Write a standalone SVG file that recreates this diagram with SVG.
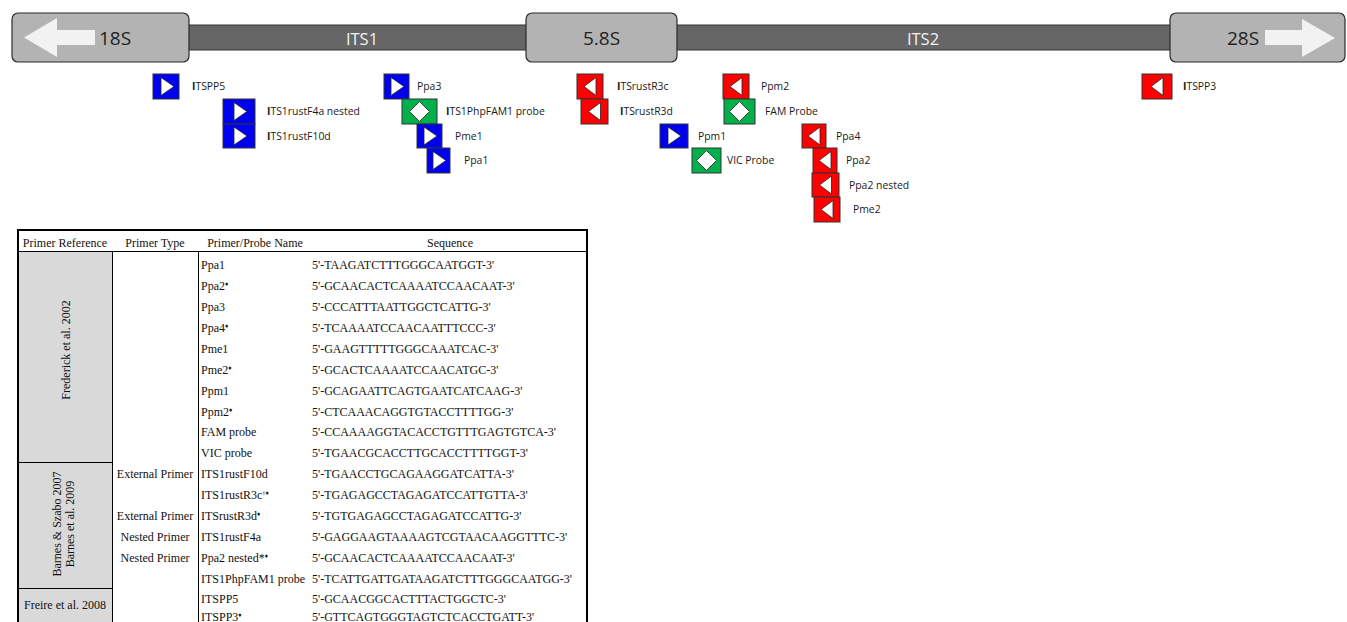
<svg xmlns="http://www.w3.org/2000/svg" width="1347" height="622" viewBox="0 0 1347 622">
<defs>
<style>
.bar{fill:#666666;stroke:#333;stroke-width:1}
.box{fill:#b3b3b3;stroke:#2a2a2a;stroke-width:1.2}
.arr{fill:#f2f2f2}
.rt{font-family:"Open Sans","Noto Sans",sans-serif;font-size:19px;fill:#222;text-anchor:middle}
.its{font-family:"Open Sans","Noto Sans",sans-serif;font-size:16.5px;fill:#f2f2f2;text-anchor:middle}
.fw{fill:#0000f0;stroke:#333;stroke-width:1}
.rv{fill:#ff0000;stroke:#333;stroke-width:1}
.pr{fill:#00b04a;stroke:#333;stroke-width:1}
.tri{fill:#fff;stroke:#222;stroke-width:0.8}
.lab{font-family:"Open Sans","Noto Sans",sans-serif;font-size:10.4px;fill:#1a1a1a}
.b{font-weight:bold}
.t{font-family:"Liberation Serif","Times New Roman",serif;font-size:12px;fill:#111}
.tm{text-anchor:middle}
.sup{font-size:6.5px}
.grey{fill:#d9d9d9}
.thin{stroke:#000;stroke-width:1;fill:none}
.thick{stroke:#000;stroke-width:2;fill:none}
</style>
</defs>

<g id="rdna">
<rect class="bar" x="185" y="25" width="990" height="25"/>
<g id="n18S">
<rect class="box" x="12" y="13" width="177" height="49" rx="6"/>
<polygon class="arr" points="24,37.5 57,18 57,30 95,30 95,45 57,45 57,57"/>
<text class="rt" x="115" y="44.5">18S</text>
</g>
<g id="nITS1"><text class="its" x="362" y="45">ITS1</text></g>
<g id="n58S">
<rect class="box" x="526" y="13" width="151" height="49" rx="6"/>
<text class="rt" x="601.5" y="45">5.8S</text>
</g>
<g id="nITS2"><text class="its" x="923" y="45">ITS2</text></g>
<g id="n28S">
<rect class="box" x="1170" y="13" width="175" height="49" rx="6"/>
<polygon class="arr" points="1335,38 1302,19 1302,30 1265,30 1265,45 1302,45 1302,57"/>
<text class="rt" x="1243" y="44.5">28S</text>
</g>
</g>

<g id="primers">
<g id="p-ITSPP5"><rect class="fw" x="153" y="74" width="26" height="25"/><polygon class="tri" points="161,77.5 161,95.5 174,86.5"/><text class="lab" x="192" y="90"><tspan class="b">I</tspan>TSPP5</text></g>
<g id="p-F4a"><rect class="fw" x="223" y="99" width="32" height="25"/><polygon class="tri" points="234,102.5 234,120.5 247,111.5"/><text class="lab" x="267" y="115"><tspan class="b">I</tspan>TS1rustF4a nested</text></g>
<g id="p-F10d"><rect class="fw" x="223" y="124" width="32" height="24"/><polygon class="tri" points="234,127 234,145 247,136"/><text class="lab" x="267" y="139.5"><tspan class="b">I</tspan>TS1rustF10d</text></g>
<g id="p-Ppa3"><rect class="fw" x="384" y="74" width="25" height="25"/><polygon class="tri" points="391,77.5 391,95.5 404,86.5"/><text class="lab" x="417" y="90">Ppa3</text></g>
<g id="p-FAM1"><rect class="pr" x="402" y="99" width="35" height="25"/><polygon class="tri" points="419.5,101.5 429.5,111.5 419.5,121.5 409.5,111.5"/><text class="lab" x="446" y="115"><tspan class="b">I</tspan>TS1PhpFAM1 probe</text></g>
<g id="p-Pme1"><rect class="fw" x="417" y="124" width="25" height="24"/><polygon class="tri" points="424,127 424,145 437,136"/><text class="lab" x="455" y="139.5">Pme1</text></g>
<g id="p-Ppa1"><rect class="fw" x="427" y="148" width="23" height="25"/><polygon class="tri" points="433,151.5 433,169.5 446,160.5"/><text class="lab" x="464" y="164">Ppa1</text></g>
<g id="p-R3c"><rect class="rv" x="577" y="74" width="26" height="25"/><polygon class="tri" points="584,86.5 596,77.5 596,95.5"/><text class="lab" x="617" y="90"><tspan class="b">I</tspan>TSrustR3c</text></g>
<g id="p-R3d"><rect class="rv" x="581" y="99" width="27" height="25"/><polygon class="tri" points="588.5,111.5 600.5,102.5 600.5,120.5"/><text class="lab" x="620" y="115"><tspan class="b">I</tspan>TSrustR3d</text></g>
<g id="p-Ppm1"><rect class="fw" x="660" y="124" width="28" height="24"/><polygon class="tri" points="668,127 668,145 681,136"/><text class="lab" x="698" y="139.5">Ppm1</text></g>
<g id="p-VIC"><rect class="pr" x="692" y="148" width="29" height="25"/><polygon class="tri" points="706.5,150.5 716.5,160.5 706.5,170.5 696.5,160.5"/><text class="lab" x="727" y="164">VIC Probe</text></g>
<g id="p-Ppm2"><rect class="rv" x="723" y="74" width="26" height="25"/><polygon class="tri" points="730,86.5 742,77.5 742,95.5"/><text class="lab" x="761" y="90">Ppm2</text></g>
<g id="p-FAM"><rect class="pr" x="724" y="99" width="31" height="25"/><polygon class="tri" points="739.5,101.5 749.5,111.5 739.5,121.5 729.5,111.5"/><text class="lab" x="765" y="115">FAM Probe</text></g>
<g id="p-Ppa4"><rect class="rv" x="802" y="124" width="24" height="24"/><polygon class="tri" points="808,136 820,127 820,145"/><text class="lab" x="836" y="139.5">Ppa4</text></g>
<g id="p-Ppa2"><rect class="rv" x="813" y="148" width="24" height="25"/><polygon class="tri" points="819,160.5 831,151.5 831,169.5"/><text class="lab" x="846" y="164">Ppa2</text></g>
<g id="p-Ppa2n"><rect class="rv" x="812" y="173" width="27" height="24"/><polygon class="tri" points="819.5,185 831.5,176 831.5,194"/><text class="lab" x="849" y="188.5">Ppa2 nested</text></g>
<g id="p-Pme2"><rect class="rv" x="814" y="197" width="26" height="25"/><polygon class="tri" points="821,209.5 833,200.5 833,218.5"/><text class="lab" x="853" y="213">Pme2</text></g>
<g id="p-ITSPP3"><rect class="rv" x="1142" y="74" width="30" height="25"/><polygon class="tri" points="1151,86.5 1163,77.5 1163,95.5"/><text class="lab" x="1183" y="90"><tspan class="b">I</tspan>TSPP3</text></g>
</g>

<g id="table">
<rect class="grey" x="19" y="252" width="93" height="210"/>
<rect class="grey" x="19" y="463" width="93" height="125"/>
<rect class="grey" x="19" y="589" width="93" height="36"/>
<line class="thin" x1="18" y1="251.5" x2="588" y2="251.5"/>
<line class="thin" x1="18" y1="462.5" x2="112" y2="462.5"/>
<line class="thin" x1="18" y1="588.5" x2="112" y2="588.5"/>
<line class="thin" x1="112.5" y1="251" x2="112.5" y2="622"/>
<line class="thin" x1="198.5" y1="251" x2="198.5" y2="622"/>
<polyline class="thick" points="18,622 18,230 587,230 587,622"/>

<text class="t tm" x="65" y="247">Primer Reference</text>
<text class="t tm" x="155" y="247">Primer Type</text>
<text class="t tm" x="255" y="247">Primer/Probe Name</text>
<text class="t tm" x="450" y="247">Sequence</text>

<text class="t tm" transform="translate(69.5,350) rotate(-90)">Frederick et al. 2002</text>
<text class="t tm" transform="translate(61,524) rotate(-90)">Barnes &amp; Szabo 2007</text>
<text class="t tm" transform="translate(73.5,524) rotate(-90)">Barnes et al. 2009</text>
<text class="t tm" x="65" y="608.5">Freire et al. 2008</text>

<text class="t tm" x="155" y="478">External Primer</text>
<text class="t tm" x="155" y="520">External Primer</text>
<text class="t tm" x="155" y="540.5">Nested Primer</text>
<text class="t tm" x="155" y="561.5">Nested Primer</text>

<g>
<text class="t" x="201" y="269">Ppa1</text>
<text class="t" x="201" y="290">Ppa2<tspan class="sup" dy="-4">♦</tspan></text>
<text class="t" x="201" y="311">Ppa3</text>
<text class="t" x="201" y="331.5">Ppa4<tspan class="sup" dy="-4">♦</tspan></text>
<text class="t" x="201" y="352.5">Pme1</text>
<text class="t" x="201" y="373.5">Pme2<tspan class="sup" dy="-4">♦</tspan></text>
<text class="t" x="201" y="394.5">Ppm1</text>
<text class="t" x="201" y="415.5">Ppm2<tspan class="sup" dy="-4">♦</tspan></text>
<text class="t" x="201" y="436">FAM probe</text>
<text class="t" x="201" y="457">VIC probe</text>
<text class="t" x="201" y="478">ITS1rustF10d</text>
<text class="t" x="201" y="499">ITS1rustR3c<tspan class="sup" dy="-4">†♦</tspan></text>
<text class="t" x="201" y="520">ITSrustR3d<tspan class="sup" dy="-4">♦</tspan></text>
<text class="t" x="201" y="540.5">ITS1rustF4a</text>
<text class="t" x="201" y="561.5">Ppa2 nested*<tspan class="sup" dy="-4">♦</tspan></text>
<text class="t" x="201" y="582.5">ITS1PhpFAM1 probe</text>
<text class="t" x="201" y="602.5">ITSPP5</text>
<text class="t" x="201" y="621">ITSPP3<tspan class="sup" dy="-4">♦</tspan></text>
</g>
<g>
<text class="t" x="312" y="269">5'-TAAGATCTTTGGGCAATGGT-3'</text>
<text class="t" x="312" y="290">5'-GCAACACTCAAAATCCAACAAT-3'</text>
<text class="t" x="312" y="311">5'-CCCATTTAATTGGCTCATTG-3'</text>
<text class="t" x="312" y="331.5">5'-TCAAAATCCAACAATTTCCC-3'</text>
<text class="t" x="312" y="352.5">5'-GAAGTTTTTGGGCAAATCAC-3'</text>
<text class="t" x="312" y="373.5">5'-GCACTCAAAATCCAACATGC-3'</text>
<text class="t" x="312" y="394.5">5'-GCAGAATTCAGTGAATCATCAAG-3'</text>
<text class="t" x="312" y="415.5">5'-CTCAAACAGGTGTACCTTTTGG-3'</text>
<text class="t" x="312" y="436">5'-CCAAAAGGTACACCTGTTTGAGTGTCA-3'</text>
<text class="t" x="312" y="457">5'-TGAACGCACCTTGCACCTTTTGGT-3'</text>
<text class="t" x="312" y="478">5'-TGAACCTGCAGAAGGATCATTA-3'</text>
<text class="t" x="312" y="499">5'-TGAGAGCCTAGAGATCCATTGTTA-3'</text>
<text class="t" x="312" y="520">5'-TGTGAGAGCCTAGAGATCCATTG-3'</text>
<text class="t" x="312" y="540.5">5'-GAGGAAGTAAAAGTCGTAACAAGGTTTC-3'</text>
<text class="t" x="312" y="561.5">5'-GCAACACTCAAAATCCAACAAT-3'</text>
<text class="t" x="312" y="582.5">5'-TCATTGATTGATAAGATCTTTGGGCAATGG-3'</text>
<text class="t" x="312" y="602.5">5'-GCAACGGCACTTTACTGGCTC-3'</text>
<text class="t" x="312" y="621">5'-GTTCAGTGGGTAGTCTCACCTGATT-3'</text>
</g>
</g>
</svg>
